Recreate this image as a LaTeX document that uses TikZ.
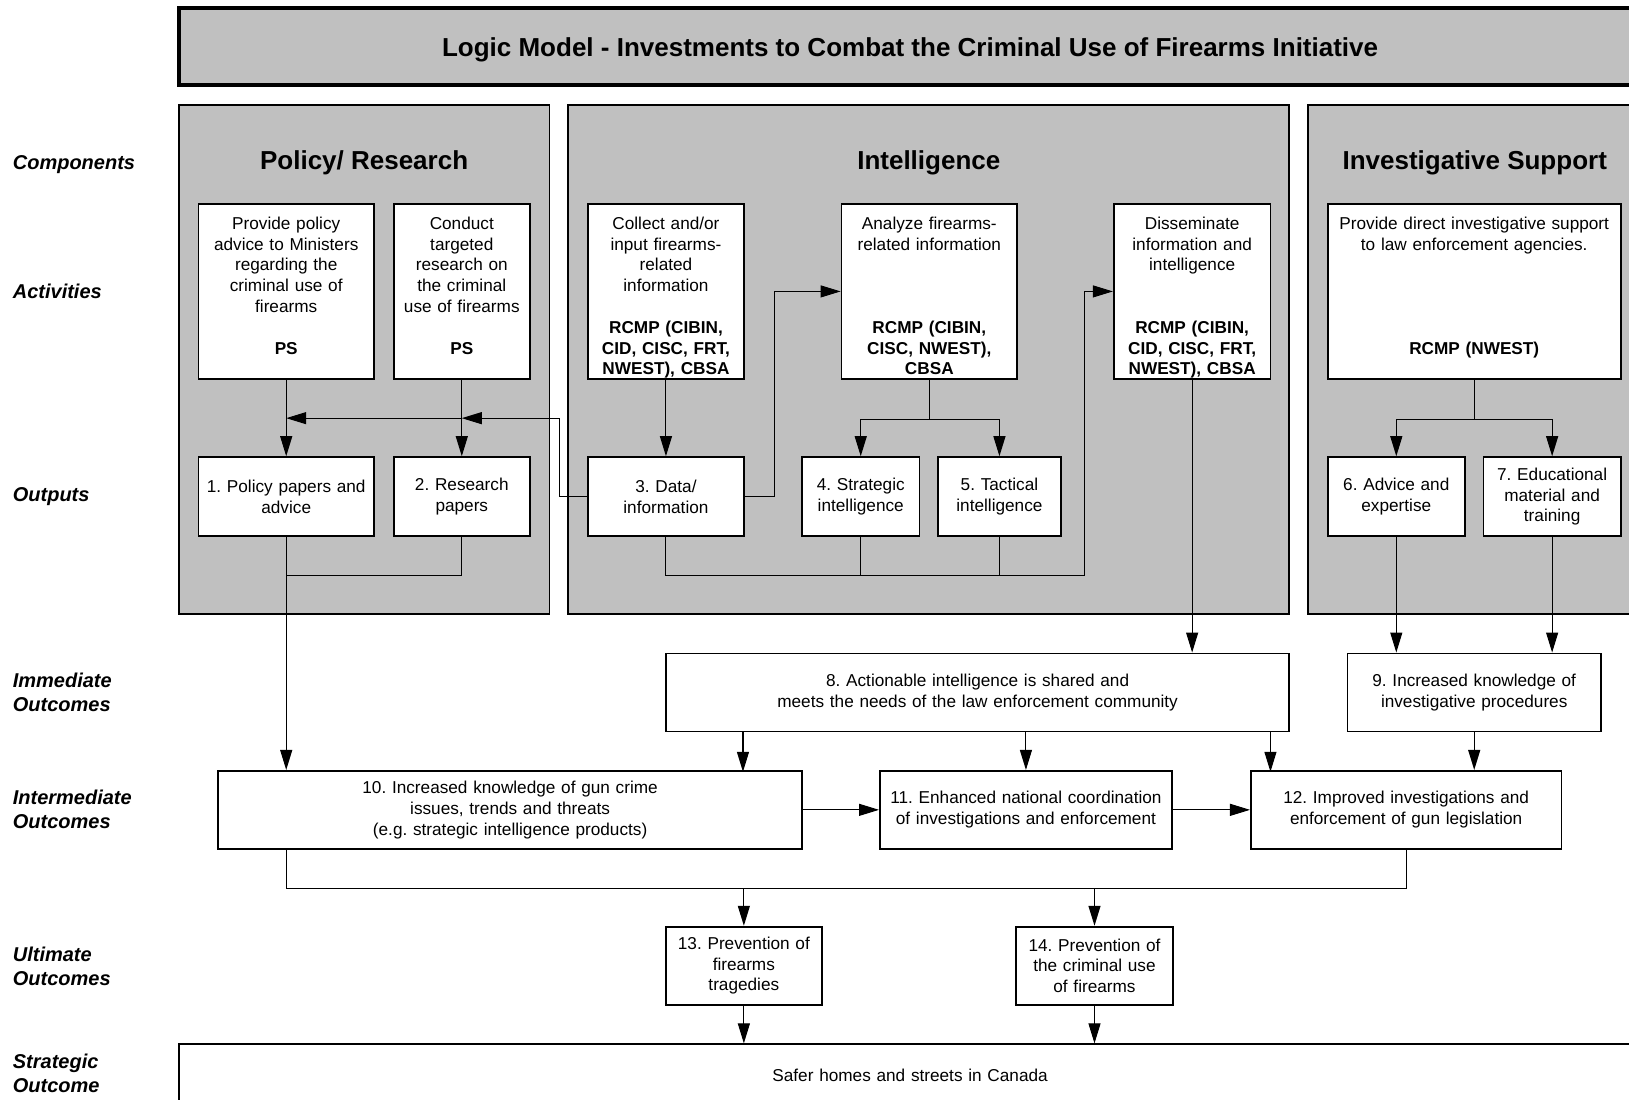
\documentclass[tikz,border=0pt]{standalone}
\usepackage{fontspec}
\setmainfont{Liberation Sans}
\usetikzlibrary{arrows.meta,calc}
\frenchspacing
\newcommand\actop{\rule{0pt}{12.6pt}}
\newcommand\actbot{\rule[-2pt]{0pt}{2pt}}

\begin{document}
\begin{tikzpicture}[x=0.5195pt,y=0.5195pt,yscale=-1,xscale=1,
  panel/.style={draw, line width=0.9pt, fill={rgb, 255:red, 192; green, 192; blue, 192}},
  box/.style={draw, line width=0.9pt, fill=white, inner xsep=2pt, inner ysep=0pt, align=center, font=\fontsize{8.6}{10.4}\selectfont},
  head/.style={inner sep=0pt, font=\fontsize{13}{15}\selectfont\bfseries},
  rowlabel/.style={anchor=west, inner sep=0pt, align=left, font=\fontsize{10}{12}\selectfont\bfseries\itshape},
  link/.style={line width=0.55pt},
  arr/.style={link, -{Triangle[length=10pt,width=6pt]}},
]
\useasboundingbox (0,0) rectangle (1568,1058);

%Shape: Rectangle (title)
\node[draw, line width=1.9pt, fill={rgb, 255:red, 192; green, 192; blue, 192}, minimum width=731.5pt, minimum height=38.4pt, text depth=0pt, head] (title) at (876,45) {Logic Model - Investments to Combat the Criminal Use of Firearms Initiative};

%Shape: Rectangle (component panels)
\draw[panel] (172,101) rectangle (529,591);
\draw[panel] (547,101) rectangle (1241,591);
\draw[panel] (1259,101) rectangle (1580,591);

% Text Node
\node[head] (h1) at (350.5,157) {Policy/ Research};
\node[head] (h2) at (894,157) {Intelligence};
\node[head] (h3) at (1419.5,157) {Investigative Support};

% Text Node (row labels)
\node[rowlabel] (r1) at (12,158) {Components};
\node[rowlabel] (r2) at (12,280) {Activities};
\node[rowlabel] (r3) at (12,478) {Outputs};
\node[rowlabel] (r4) at (12,666.5) {Immediate\\Outcomes};
\node[rowlabel] (r5) at (12,779.5) {Intermediate\\Outcomes};
\node[rowlabel] (r6) at (12,930) {Ultimate\\Outcomes};
\node[rowlabel] (r7) at (12,1033) {Strategic\\Outcome};

%Shape: Rectangle (activities)
\node[box, text width=83.8pt, minimum height=87.8pt] (a1) at (275.5,280.5) {\actop Provide policy\\advice to Ministers\\regarding the\\criminal use of\\firearms\\\mbox{}\\\textbf{PS}\\\actbot};
\node[box, text width=64pt, minimum height=87.8pt] (a2) at (444.5,280.5) {\actop Conduct\\targeted\\research on\\the criminal\\use of firearms\\\mbox{}\\\textbf{PS}\\\actbot};
\node[box, text width=73.9pt, minimum height=87.8pt] (a3) at (641,280.5) {\actop Collect and/or\\input firearms-\\related\\information\\\mbox{}\\\textbf{RCMP (CIBIN,}\\\textbf{CID, CISC, FRT,}\\\textbf{NWEST), CBSA}\actbot};
\node[box, text width=83.8pt, minimum height=87.8pt] (a4) at (894.5,280.5) {\actop Analyze firearms-\\related information\\\mbox{}\\\mbox{}\\\mbox{}\\\textbf{RCMP (CIBIN,}\\\textbf{CISC, NWEST),}\\\textbf{CBSA}\actbot};
\node[box, text width=74.4pt, minimum height=87.8pt] (a5) at (1147.5,280.5) {\actop Disseminate\\information and\\intelligence\\\mbox{}\\\mbox{}\\\textbf{RCMP (CIBIN,}\\\textbf{CID, CISC, FRT,}\\\textbf{NWEST), CBSA}\actbot};
\node[box, text width=142.5pt, minimum height=87.8pt] (a6) at (1419,280.5) {\actop Provide direct investigative support\\to law enforcement agencies.\\\mbox{}\\\mbox{}\\\mbox{}\\\mbox{}\\\textbf{RCMP (NWEST)}\\\actbot};

%Shape: Rectangle (outputs)
\node[box, text width=83.8pt, minimum height=39.5pt] (o1) at (275.5,478) {1. Policy papers and\\advice};
\node[box, text width=64pt, minimum height=39.5pt] (o2) at (444.5,478) {2. Research\\papers};
\node[box, text width=73.9pt, minimum height=39.5pt] (o3) at (641,478) {3. Data/\\information};
\node[box, text width=54.7pt, minimum height=39.5pt] (o4) at (828.5,478) {4. Strategic\\intelligence};
\node[box, text width=57.3pt, minimum height=39.5pt] (o5) at (962,478) {5. Tactical\\intelligence};
\node[box, text width=64.6pt, minimum height=39.5pt] (o6) at (1344,478) {6. Advice and\\expertise};
\node[box, text width=64.6pt, minimum height=39.5pt] (o7) at (1494,478) {7. Educational\\material and\\training};

%Shape: Rectangle (immediate outcomes)
\node[box, text width=307.7pt, minimum height=39pt] (i8) at (941,666.5) {8. Actionable intelligence is shared and\\meets the needs of the law enforcement community};
\node[box, text width=122.8pt, minimum height=39pt] (i9) at (1419,666.5) {9. Increased knowledge of\\investigative procedures};

%Shape: Rectangle (intermediate outcomes)
\node[box, text width=288pt, minimum height=39pt] (m10) at (491,779.5) {10. Increased knowledge of gun crime\\issues, trends and threats\\(e.g. strategic intelligence products)};
\node[box, text width=142pt, minimum height=39pt] (m11) at (987.5,779.5) {11. Enhanced national coordination\\of investigations and enforcement};
\node[box, text width=151.3pt, minimum height=39pt] (m12) at (1353.5,779.5) {12. Improved investigations and\\enforcement of gun legislation};

%Shape: Rectangle (ultimate outcomes)
\node[box, text width=73.9pt, minimum height=39pt] (u13) at (716,929.5) {13. Prevention of\\firearms\\tragedies};
\node[box, text width=74.4pt, minimum height=39pt] (u14) at (1053.5,929.5) {14. Prevention of\\the criminal use\\of firearms};

%Shape: Rectangle (strategic outcome)
\node[box, text width=727.5pt, minimum height=31pt] (so) at (876,1035) {Safer homes and streets in Canada};

%Straight Lines (policy/ research)
\draw[arr] (a1) -- (o1);
\draw[arr] (a2) -- (o2);
\coordinate (jp1) at ($(a1.south)!0.5!(o1.north)$);
\coordinate (jp2) at ($(a2.south)!0.5!(o2.north)$);
\draw[arr] (o3.west) -- ++(-27,0) |- (jp2);
\draw[arr] (jp2) -- (jp1);

%Straight Lines (intelligence)
\draw[arr] (a3) -- (o3);
\draw[arr] (o3.east) -- ++(29,0) |- (a4.west);
\draw[link] (a4.south) -- ++(0,38) coordinate (j4);
\draw[arr] (j4) -| (o4.north);
\draw[arr] (j4) -| (o5.north);
\draw[arr] (o3.south) -- ++(0,37) -- ++(403,0) |- (a5.west);
\draw[link] (o4.south) -- ++(0,37);
\draw[link] (o5.south) -- ++(0,37);
\draw[arr] (a5.south) -- (a5.south |- i8.north);

%Straight Lines (investigative support)
\draw[link] (a6.south) -- ++(0,38) coordinate (j6);
\draw[arr] (j6) -| (o6.north);
\draw[arr] (j6) -| (o7.north);
\draw[arr] (o6.south) -- (o6.south |- i9.north);
\draw[arr] (o7.south) -- (o7.south |- i9.north);

%Straight Lines (outcomes)
\draw[link] (o2.south) -- ++(0,37) -| (o1.south);
\draw[arr] (o1.south) -- (o1.south |- m10.north);
\draw[arr] ($(i8.south west)+(75,0)$) -- ++(0,38);
\draw[arr] (i8.south -| m11) -- (m11.north);
\draw[arr] ($(i8.south east)+(-19,0)$) -- ++(0,38);
\draw[arr] (i9.south) -- (i9.south |- m12.north);
\draw[arr] (m10.east) -- (m11.west);
\draw[arr] (m11.east) -- (m12.west);
\draw[link] (m10.south -| o1) -- ++(0,37) coordinate (jm) -| (m12.south);
\draw[arr] (u13 |- jm) -- (u13.north);
\draw[arr] (u14 |- jm) -- (u14.north);
\draw[arr] (u13.south) -- (u13.south |- so.north);
\draw[arr] (u14.south) -- (u14.south |- so.north);

\end{tikzpicture}
\end{document}
